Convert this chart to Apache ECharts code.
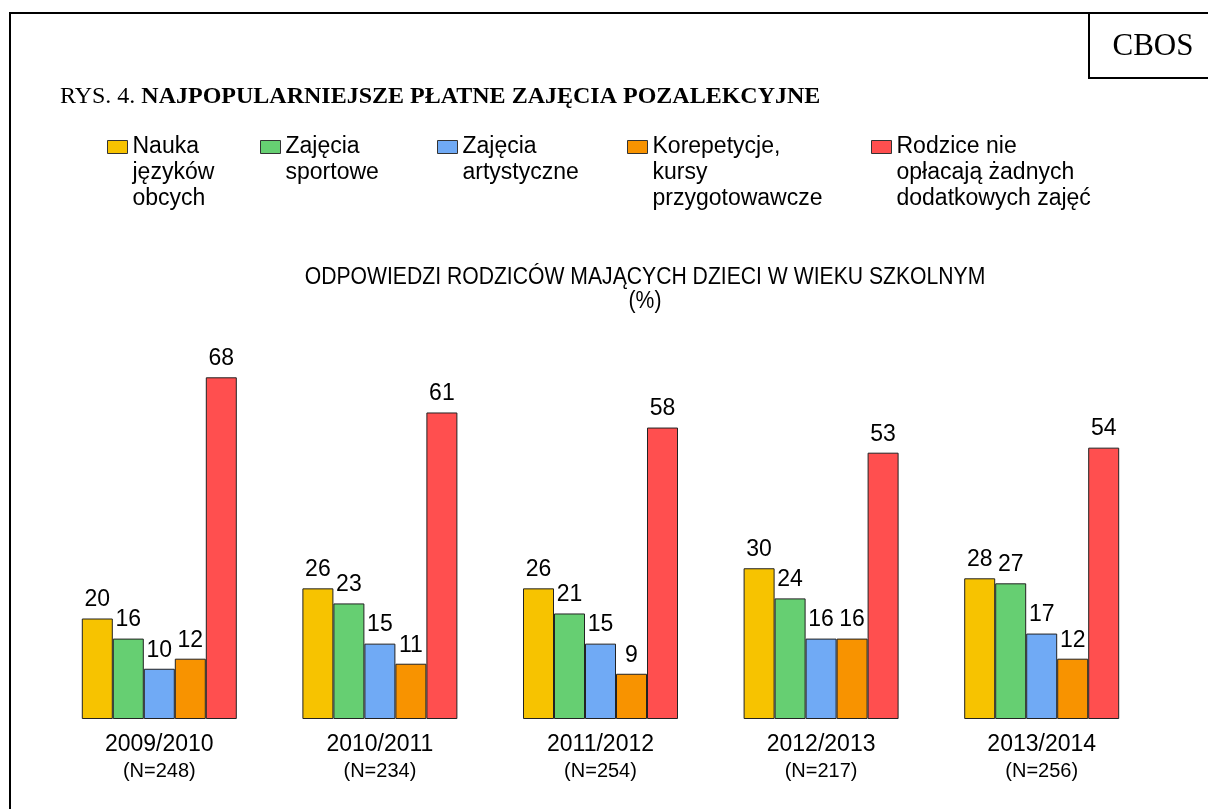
<!DOCTYPE html>
<html>
<head>
<meta charset="utf-8">
<title>Najpopularniejsze płatne zajęcia pozalekcyjne</title>
<script src="https://cdn.jsdelivr.net/npm/echarts@6/dist/echarts.min.js"></script>
<style>
  html, body {margin: 0; padding: 0; background: #fff;}
  #chart {width: 1208px; height: 809px;}
</style>
</head>
<body>
<div id="chart"></div>
<script>
// lata szkolne i liczebności prób
const years = ['2009/2010', '2010/2011', '2011/2012', '2012/2013', '2013/2014'];
const sampleN = [248, 234, 254, 217, 256];

// nazwy serii (w legendzie łamane na linie)
const seriesNames = [
  'Nauka\njęzyków\nobcych',
  'Zajęcia\nsportowe',
  'Zajęcia\nartystyczne',
  'Korepetycje,\nkursy\nprzygotowawcze',
  'Rodzice nie\nopłacają żadnych\ndodatkowych zajęć'
];

// wartości w %
const jezyki = [20, 26, 26, 30, 28];
const sport = [16, 23, 21, 24, 27];
const artystyczne = [10, 15, 15, 16, 17];
const korepetycje = [12, 11, 9, 16, 12];
const nieOplacaja = [68, 61, 58, 53, 54];

const values = [jezyki, sport, artystyczne, korepetycje, nieOplacaja];
const colors = ['#F7C300', '#66CF72', '#70AAF5', '#F89300', '#FF4F4F'];
const legendLeft = [107, 260, 437, 627, 871];

const chart = echarts.init(document.getElementById('chart'));

const font = 'Arial, "Liberation Sans", sans-serif';
const serif = '"Liberation Serif", "Times New Roman", serif';
const lineH = 26;
const iconCenter = 147;

// legenda centruje tekst na ikonie, więc dopisuję puste linie na górze,
// żeby pierwsza linia stała na wysokości kwadracika
const padLines = (name) => {
  const n = name.split('\n').length;
  return '\u00a0\n'.repeat(n - 1) + name;
};

// jedna legenda na pozycję, żeby ustawić je jak w oryginale
const legends = seriesNames.map((name, i) => {
  const lines = name.split('\n').length;
  return {
    data: [name],
    left: legendLeft[i],
    top: iconCenter - (2 * lines - 1) * lineH / 2,
    padding: 0,
    icon: 'rect',
    itemWidth: 20,
    itemHeight: 13,
    itemGap: 0,
    selectedMode: false,
    formatter: padLines,
    itemStyle: {borderColor: '#333', borderWidth: 1},
    textStyle: {
      fontFamily: font,
      fontSize: 23,
      color: '#000',
      lineHeight: lineH
    }
  };
});

const series = seriesNames.map((name, i) => ({
  name: name,
  type: 'bar',
  data: values[i],
  barWidth: 31,
  barGap: '0%',
  itemStyle: {color: colors[i], borderColor: '#222', borderWidth: 1},
  label: {
    show: true,
    position: 'top',
    distance: 7,
    fontFamily: font,
    fontSize: 23,
    color: '#000'
  }
}));

const option = {
  backgroundColor: '#fff',
  animation: false,
  title: {
    text: '{n|RYS. 4. }{b|NAJPOPULARNIEJSZE PŁATNE ZAJĘCIA POZALEKCYJNE}',
    left: 60,
    top: 85,
    padding: 0,
    textStyle: {
      fontWeight: 'normal',
      rich: {
        n: {fontFamily: serif, fontSize: 24, fontWeight: 'normal', color: '#000'},
        b: {fontFamily: serif, fontSize: 24, fontWeight: 'bold', color: '#000'}
      }
    }
  },
  legend: legends,
  grid: {left: 49, right: 56, top: 317, bottom: 90},
  xAxis: {
    type: 'category',
    data: years,
    axisLine: {show: false},
    axisTick: {show: false},
    axisLabel: {
      margin: 12,
      formatter: (v, idx) => '{y|' + v + '}\n{n|(N=' + sampleN[idx] + ')}',
      rich: {
        y: {fontFamily: font, fontSize: 23, color: '#000', lineHeight: 27},
        n: {fontFamily: font, fontSize: 20, color: '#000', lineHeight: 27}
      }
    }
  },
  yAxis: {
    type: 'value',
    min: 0,
    max: 80,
    show: false,
    splitLine: {show: false}
  },
  series: series,
  graphic: [
    {
      type: 'polyline',
      shape: {points: [[10, 809], [10, 13], [1208, 13]]},
      style: {stroke: '#000', lineWidth: 2, fill: null}
    },
    {
      type: 'polyline',
      shape: {points: [[1089, 13], [1089, 78], [1208, 78]]},
      style: {stroke: '#000', lineWidth: 2, fill: null}
    },
    {
      type: 'text',
      x: 1153,
      y: 47,
      style: {
        text: 'CBOS',
        font: '31px ' + serif,
        fill: '#000',
        align: 'center',
        verticalAlign: 'middle'
      }
    },
    {
      // podtytuł w oryginale jest pisany zwężonym krojem
      type: 'text',
      x: 645,
      y: 290,
      scaleX: 0.92,
      style: {
        text: 'ODPOWIEDZI RODZICÓW MAJĄCYCH DZIECI W WIEKU SZKOLNYM\n(%)',
        font: '23px ' + font,
        lineHeight: 24,
        fill: '#000',
        align: 'center',
        verticalAlign: 'middle'
      }
    }
  ]
};

chart.setOption(option);
</script>
</body>
</html>
